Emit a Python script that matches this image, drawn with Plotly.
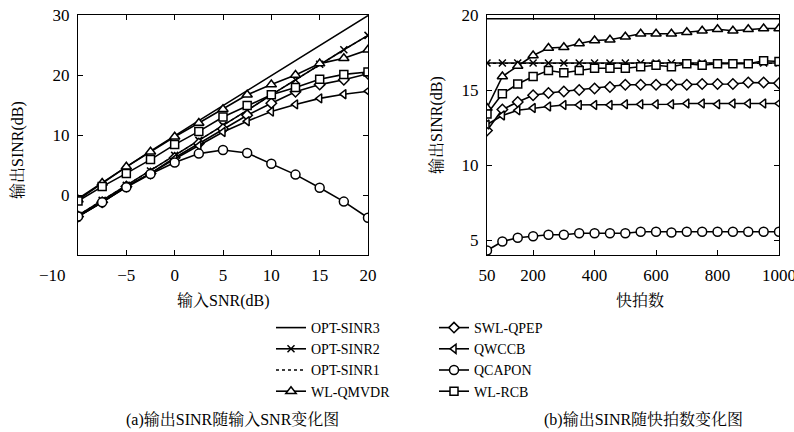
import plotly.graph_objects as go

# ---------------- data ----------------
snr_in = [-10, -7.5, -5, -2.5, 0, 2.5, 5, 7.5, 10, 12.5, 15, 17.5, 20]
opt3_a = [-0.6, 2.1, 4.7, 7.3, 9.9, 12.4, 14.9, 17.4, 19.9, 22.4, 24.9, 27.4, 29.9]
opt2_a = [-3.4, -0.9, 1.6, 4.0, 6.6, 9.1, 11.6, 14.1, 16.7, 19.2, 21.8, 24.2, 26.6]
opt1_a = [-3.4, -0.9, 1.6, 4.0, 6.6, 9.1, 11.6, 14.1, 16.7, 19.2, 21.8, 24.2, 26.6]
qmvdr_a = [-0.8, 2.0, 4.7, 7.2, 9.7, 12.0, 14.3, 16.7, 18.4, 20.0, 21.9, 22.8, 24.2]
qpep_a = [-3.6, -1.2, 1.4, 3.6, 6.2, 8.6, 11.0, 13.3, 15.3, 17.2, 18.4, 19.2, 20.2]
qwccb_a = [-3.6, -1.2, 1.4, 3.6, 6.0, 8.2, 10.5, 12.3, 13.9, 15.1, 16.1, 16.8, 17.3]
qcapon_a = [-3.6, -1.2, 1.3, 3.5, 5.4, 6.9, 7.5, 7.0, 5.2, 3.4, 1.2, -1.1, -3.8]
rcb_a = [-1.0, 1.4, 3.6, 5.9, 8.4, 10.6, 13.0, 14.9, 16.7, 17.9, 19.3, 20.1, 20.5]

snaps = [50, 100, 150, 200, 250, 300, 350, 400, 450, 500,
         550, 600, 650, 700, 750, 800, 850, 900, 950, 1000]
opt3_b = [19.75, 19.75, 19.75, 19.75, 19.75, 19.75, 19.75, 19.75, 19.75, 19.75,
          19.75, 19.75, 19.75, 19.75, 19.75, 19.75, 19.75, 19.75, 19.75, 19.75]
opt2_b = [16.8, 16.8, 16.8, 16.8, 16.8, 16.8, 16.8, 16.8, 16.8, 16.8,
          16.8, 16.8, 16.8, 16.8, 16.8, 16.8, 16.8, 16.8, 16.8, 16.8]
opt1_b = [16.78, 16.78, 16.78, 16.78, 16.78, 16.78, 16.78, 16.78, 16.78, 16.78,
          16.78, 16.78, 16.78, 16.78, 16.78, 16.78, 16.78, 16.78, 16.78, 16.78]
qmvdr_b = [13.8, 15.9, 16.6, 17.3, 17.8, 17.85, 18.1, 18.3, 18.35, 18.55,
           18.75, 18.75, 18.75, 18.85, 18.95, 19.05, 18.95, 19.05, 19.1, 19.1]
rcb_b = [13.4, 14.75, 15.4, 15.9, 16.3, 16.15, 16.3, 16.45, 16.45, 16.45,
         16.55, 16.65, 16.55, 16.75, 16.65, 16.75, 16.75, 16.75, 16.95, 16.9]
qpep_b = [12.3, 13.7, 14.2, 14.65, 14.8, 14.9, 15.0, 15.1, 15.2, 15.35,
          15.35, 15.35, 15.35, 15.35, 15.4, 15.4, 15.4, 15.5, 15.5, 15.45]
qwccb_b = [12.7, 13.3, 13.65, 13.8, 13.9, 14.0, 14.0, 14.0, 14.0, 14.05,
           14.05, 14.05, 14.05, 14.1, 14.1, 14.05, 14.1, 14.1, 14.1, 14.1]
qcapon_b = [4.3, 4.9, 5.15, 5.25, 5.35, 5.35, 5.45, 5.45, 5.45, 5.45,
            5.55, 5.55, 5.5, 5.55, 5.55, 5.55, 5.55, 5.55, 5.55, 5.55]

names = ["OPT-SINR3", "OPT-SINR2", "OPT-SINR1", "WL-QMVDR",
         "SWL-QPEP", "QWCCB", "QCAPON", "WL-RCB"]
left_series = [opt3_a, opt2_a, opt1_a, qmvdr_a, qpep_a, qwccb_a, qcapon_a, rcb_a]
right_series = [opt3_b, opt2_b, opt1_b, qmvdr_b, qpep_b, qwccb_b, qcapon_b, rcb_b]

# styles: (mode, dash, symbol, size, legend)
styles = [
    ("lines", "solid", None, 0, "legend"),
    ("lines+markers", "solid", "x-thin-open", 7, "legend"),
    ("lines", "dot", None, 0, "legend"),
    ("lines+markers", "solid", "triangle-up", 9, "legend"),
    ("lines+markers", "solid", "diamond", 8, "legend2"),
    ("lines+markers", "solid", "triangle-left", 8, "legend2"),
    ("lines+markers", "solid", "circle", 9, "legend2"),
    ("lines+markers", "solid", "square", 8, "legend2"),
]

FONT = "Liberation Serif, Noto Serif CJK SC, Noto Sans CJK SC, serif"
W, H = 794, 432

fig = go.Figure()

def add(xv, yv, st, name, xa, ya, show):
    mode, dash, sym, size, lg = st
    marker = dict(color="white", size=size, symbol=sym or "circle",
                  line=dict(color="black", width=1.5))
    if sym == "x-thin-open":
        marker = dict(color="black", size=size, symbol=sym,
                      line=dict(color="black", width=1.5))
    fig.add_trace(go.Scatter(
        x=xv, y=yv, mode=mode, name=name,
        line=dict(color="black", width=1.6 if dash == "solid" else 1.3, dash=dash),
        marker=marker, xaxis=xa, yaxis=ya, showlegend=show, legend=lg))

for nm, ys, st in zip(names, left_series, styles):
    add(snr_in, ys, st, nm, "x", "y", True)
for nm, ys, st in zip(names, right_series, styles):
    add(snaps, ys, st, nm, "x2", "y2", False)

def px(x):
    return x / W

def py(y):
    return 1 - y / H

axis_common = dict(showline=True, linecolor="black", linewidth=1.3, mirror="ticks",
                   ticks="inside", ticklen=5, tickwidth=1, tickcolor="black",
                   showgrid=False, zeroline=False,
                   tickfont=dict(family=FONT, size=17, color="black"))

fig.update_layout(
    width=W, height=H,
    margin=dict(l=0, r=0, t=0, b=0, autoexpand=False),
    paper_bgcolor="white", plot_bgcolor="white",
    font=dict(family=FONT, color="black", size=16),
    xaxis=dict(domain=[px(78), px(368)], range=[-10, 20],
               tickvals=[-10, -5, 0, 5, 10, 15, 20],
               ticktext=["", "−5", "0", "5", "10", "15", "20"],
               anchor="y", ticklabelstandoff=4, **axis_common),
    yaxis=dict(domain=[py(255), py(15)], range=[-10, 30],
               tickvals=[-10, 0, 10, 20, 30],
               ticktext=["", "0", "10", "20", "30"],
               anchor="x", ticklabelstandoff=4, **axis_common),
    xaxis2=dict(domain=[px(487), px(779)], range=[50, 1000],
                tickvals=[50, 200, 400, 600, 800, 1000],
                ticktext=["50", "200", "400", "600", "800", ""],
                anchor="y2", ticklabelstandoff=4, **axis_common),
    yaxis2=dict(domain=[py(255), py(15)], range=[4, 20],
                tickvals=[5, 10, 15, 20],
                anchor="x2", ticklabelstandoff=4, **axis_common),
    legend=dict(x=px(271), y=py(312), xanchor="left", yanchor="top",
                bgcolor="rgba(0,0,0,0)", itemwidth=30, tracegroupgap=0,
                font=dict(family=FONT, size=14, color="black")),
    legend2=dict(x=px(434), y=py(312), xanchor="left", yanchor="top",
                 bgcolor="rgba(0,0,0,0)", itemwidth=30, tracegroupgap=0,
                 font=dict(family=FONT, size=14, color="black")),
)

def note(text, x, y, size=16, angle=0):
    return dict(text=text, x=px(x), y=py(y), xref="paper", yref="paper",
                xanchor="center", yanchor="middle", textangle=angle,
                showarrow=False, font=dict(size=size))

ann = [
    note("−10", 52, 275, 17),
    note("1000", 779, 275, 17),
    note("输出SINR(dB)", 18, 150, 16, -90),
    note("输出SINR(dB)", 437, 125, 16, -90),
    note("输入SNR(dB)", 223, 301),
    note("快拍数", 640, 300),
    note("(a)输出SINR随输入SNR变化图", 232, 420),
    note("(b)输出SINR随快拍数变化图", 643, 420),
]
fig.update_layout(annotations=ann)

fig.write_html("out.html",
               config={"displayModeBar": False},
               post_script="document.body.style.margin='0px';"
                           "document.body.style.overflow='hidden';")
